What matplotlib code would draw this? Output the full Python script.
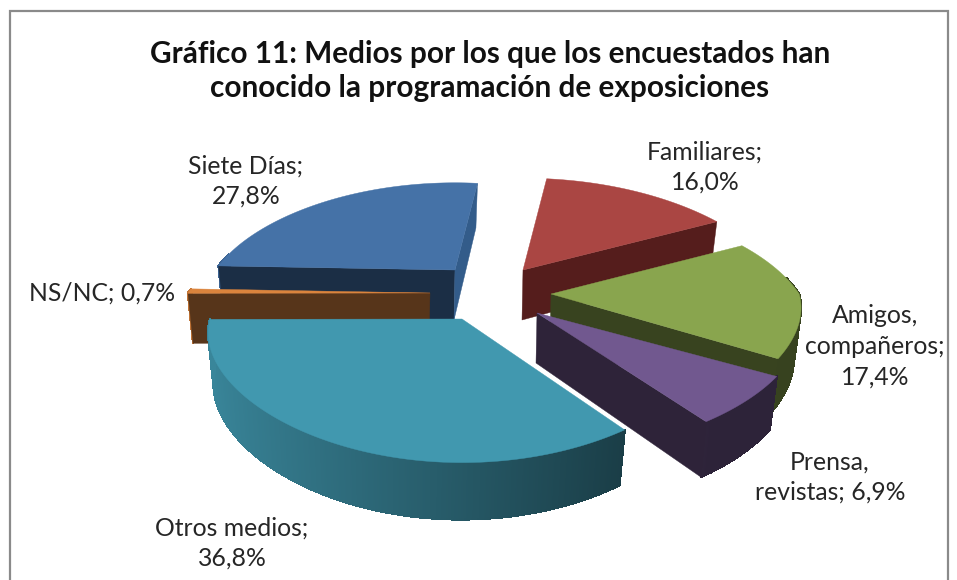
import numpy as np
import matplotlib
matplotlib.use("Agg")
import matplotlib.pyplot as plt
from matplotlib.collections import PolyCollection, LineCollection
from matplotlib.colors import to_rgb

categories = ["Familiares", "Amigos,\ncompañeros", "Prensa,\nrevistas", "Otros medios", "NS/NC", "Siete Días"]
values = [16.0, 17.4, 6.9, 36.8, 0.7, 27.8]
value_labels = ["16,0%", "17,4%", "6,9%", "36,8%", "0,7%", "27,8%"]

title = "Gráfico 11: Medios por los que los encuestados han\nconocido la programación de exposiciones"
label_text = ["Familiares;\n16,0%", "Amigos,\ncompañeros;\n17,4%", "Prensa,\nrevistas; 6,9%",
              "Otros medios;\n36,8%", "NS/NC; 0,7%", "Siete Días;\n27,8%"]
label_pos = [(705, 167), (875, 346), (830, 477), (232, 543), (102, 293), (246, 181)]

colors = ["#AA4643", "#89A54E", "#71588F", "#4198AF", "#DB843D", "#4572A7"]
apex = [(523, 270), (551, 294), (537, 313), (462, 319), (430, 293), (455, 270)]
scale_x = [1.0, 0.985, 1.04, 1.0, 0.96, 0.95]
scale_y = [1.0, 1.0, 0.98, 1.0, 0.96, 0.95]
start_face = [None, None, None, None, "#57351A", "#1B2E45"]
end_face = ["#551D1C", "#38431F", "#2E2339", None, None, "#335C8A"]
draw_order = [5, 0, 1, 4, 2, 3]

ROT, R, T, K, DEPTH, DK, SHRINK = 7.0, 252.0, 112.0, 0.22, 50.0, 0.12, 0.975
KX_FAR, KX_NEAR = 0.30, 0.12

plt.rcParams["font.family"] = ["Lato", "DejaVu Sans"]
fig = plt.figure(figsize=(9.57, 5.8), dpi=100, facecolor="white")
ax = fig.add_axes([0, 0, 1, 1])
ax.set_xlim(0, 957)
ax.set_ylim(580, 0)
ax.axis("off")


def top_pt(theta, a, sx, sy):
    t = np.radians(theta)
    u, v = np.sin(t), np.cos(t)
    kx = KX_FAR if v > 0 else KX_NEAR
    return a[0] + R * sx * u / (1 + kx * v), a[1] - T * sy * v / (1 + K * v)


def bot_pt(theta, a, sx, sy):
    x, y = top_pt(theta, a, sx, sy)
    v = np.cos(np.radians(theta))
    return a[0] + (x - a[0]) * SHRINK - 1, y + DEPTH / (1 + DK * v)


def shade(hex_color, theta):
    u = np.sin(np.radians(theta))
    f = np.interp(u, [-1, 0.6], [0.88, 0.40])
    return tuple(c * f for c in to_rgb(hex_color))


edges = np.concatenate([[0], np.cumsum(values)]) / np.sum(values) * 360 + ROT

for layer, i in enumerate(draw_order):
    z = 2 + layer
    a, sx, sy, th0, th1 = apex[i], scale_x[i], scale_y[i], edges[i], edges[i + 1]
    thetas = np.linspace(th0, th1, max(int(th1 - th0) * 3, 3))
    quads, fc, outline = [], [], []
    for p, q in zip(thetas[:-1], thetas[1:]):
        if np.cos(np.radians((p + q) / 2)) > 0.15:
            continue
        quads.append([top_pt(p, a, sx, sy), top_pt(q, a, sx, sy), bot_pt(q, a, sx, sy), bot_pt(p, a, sx, sy)])
        fc.append(shade(colors[i], (p + q) / 2))
        outline.append([bot_pt(p, a, sx, sy), bot_pt(q, a, sx, sy)])
    if quads:
        ax.add_collection(PolyCollection(quads, facecolors=fc, edgecolors=fc, linewidths=1.0,
                                         antialiaseds=False, zorder=z))
        ax.add_collection(LineCollection(outline, colors=fc, linewidths=0.9, zorder=z))
    a_bot = (a[0] - 1, a[1] + DEPTH)
    for th, col in ((th0, start_face[i]), (th1, end_face[i])):
        if col is not None:
            ax.fill(*zip(a, top_pt(th, a, sx, sy), bot_pt(th, a, sx, sy), a_bot), color=col, lw=0.3, zorder=z)
    rim = [top_pt(th, a, sx, sy) for th in thetas]
    ax.fill(*zip(a, *rim), color=colors[i], lw=0.3, zorder=z)

# chart frame (open at the bottom, cut by the picture edge)
ax.plot([9.5, 9.5, 948, 948], [580, 11, 11, 580], color="#8A8A8A", lw=1.6, solid_joinstyle="miter", zorder=20)

ax.text(490, 71, title, ha="center", va="center", fontsize=21.4, fontweight="bold",
        color="#111111", linespacing=1.29, zorder=21)
for txt, (x, y) in zip(label_text, label_pos):
    ax.text(x, y, txt, ha="center", va="center", fontsize=17.8, color="#262626", linespacing=1.4, zorder=21)

fig.savefig("out.png", dpi=100, facecolor="white")
